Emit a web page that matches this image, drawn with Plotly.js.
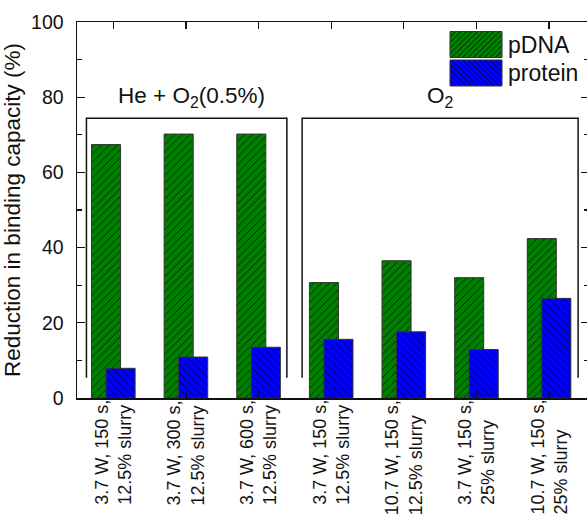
<!DOCTYPE html>
<html>
<head>
<meta charset="utf-8">
<script src="https://cdn.plot.ly/plotly-3.0.1.min.js"></script>
<style>
html,body{margin:0;padding:0;overflow:hidden;background:#fff;}
#chart{width:590px;height:517px;}
</style>
</head>
<body>
<div id="chart"></div>
<script>
// ---- data ----
const conditions = [
  "3.7 W, 150 s,<br>12.5% slurry",
  "3.7 W, 300 s,<br>12.5% slurry",
  "3.7 W, 600 s,<br>12.5% slurry",
  "3.7 W, 150 s,<br>12.5% slurry",
  "10.7 W, 150 s,<br>12.5% slurry",
  "3.7 W, 150 s,<br>25% slurry",
  "10.7 W, 150 s,<br>25% slurry"
];
const pDNA    = [67.4, 70.2, 70.2, 30.7, 36.5, 32.0, 42.4];
const protein = [7.9, 10.9, 13.5, 15.6, 17.6, 12.9, 26.5];
const seriesNames = ["pDNA", "protein"];
const groupNames = ["He + O<sub>2</sub>(0.5%)", "O<sub>2</sub>"];

// ---- styles ----
const FONT = "Arial, 'Liberation Sans', sans-serif";
const GREEN = "#008000", BLUE = "#0000ff", INK = "#111111";
const idx = conditions.map((_, i) => i);

const traces = [
  {
    type: "bar", name: seriesNames[0], x: idx, y: pDNA,
    width: 0.4, offset: -0.3,
    marker: {
      color: GREEN, line: {color: "#333", width: 1},
      pattern: {shape: "/", fgcolor: "#000", bgcolor: GREEN, size: 5.5, solidity: 0.12, fillmode: "replace"}
    },
    showlegend: false, hoverinfo: "skip"
  },
  {
    type: "bar", name: seriesNames[1], x: idx, y: protein,
    width: 0.4, offset: -0.1,
    marker: {
      color: BLUE, line: {color: "#333", width: 1},
      pattern: {shape: "\\", fgcolor: "#000", bgcolor: BLUE, size: 5.5, solidity: 0.12, fillmode: "replace"}
    },
    showlegend: false, hoverinfo: "skip"
  }
];

// pixel helpers for the plot box (left 77, right 589, top 22, bottom 398)
const PL = 77, PR = 589, PT = 22, PB = 398;
const px2paperX = p => (p - PL) / (PR - PL);
const px2paperY = p => (PB - p) / (PB - PT);

// group brackets (open at bottom)
function bracket(x0, x1, yTop, yBot) {
  return {type: "path", xref: "x", yref: "y",
    path: `M${x0},${yBot} L${x0},${yTop} L${x1},${yTop} L${x1},${yBot}`,
    line: {color: INK, width: 1.5}};
}
const shapes = [
  bracket(-0.37, 2.39, 74.4, 5.4),
  bracket(2.6, 6.4, 74.4, 5.4)
];

// custom legend swatches (hatched boxes)
function hatchPath(x0, y0, x1, y1, step, dir) {
  const segs = [];
  const h = y1 - y0, w = x1 - x0;
  for (let c = -h; c < w + h; c += step) {
    let pts = [];
    for (let t = 0; t <= h; t += 0.5) {
      const x = x0 + c + t;
      const y = dir === 1 ? y1 - t : y0 + t;
      if (x >= x0 && x <= x1) pts.push([x, y]);
    }
    if (pts.length > 1) {
      const a = pts[0], b = pts[pts.length - 1];
      segs.push(`M${px2paperX(a[0])},${px2paperY(a[1])} L${px2paperX(b[0])},${px2paperY(b[1])}`);
    }
  }
  return segs.join(" ");
}
const legendBoxes = [
  {x0: 450, x1: 502, y0: 31.5, y1: 57.5, color: GREEN, dir: 1},
  {x0: 450, x1: 502, y0: 60, y1: 86, color: BLUE, dir: -1}
];
legendBoxes.forEach(b => {
  shapes.push({type: "rect", xref: "paper", yref: "paper",
    x0: px2paperX(b.x0), x1: px2paperX(b.x1), y0: px2paperY(b.y1), y1: px2paperY(b.y0),
    fillcolor: b.color, line: {width: 0}});
  shapes.push({type: "path", xref: "paper", yref: "paper",
    path: hatchPath(b.x0, b.y0, b.x1, b.y1, 5.5, b.dir), line: {color: "#000", width: 0.7}});
  shapes.push({type: "rect", xref: "paper", yref: "paper",
    x0: px2paperX(b.x0), x1: px2paperX(b.x1), y0: px2paperY(b.y1), y1: px2paperY(b.y0),
    line: {color: "#333", width: 1}});
});

const annotations = [];
// category labels (rotated, left-aligned lines)
conditions.forEach((c, i) => {
  annotations.push({
    x: i, y: 0, xref: "x", yref: "paper",
    text: c, textangle: -90, align: "left",
    xanchor: "center", yanchor: "top", yshift: -1,
    showarrow: false, borderpad: 0,
    font: {family: FONT, size: 18, color: INK}
  });
});
// group labels
annotations.push({x: 1.08, y: 80, xref: "x", yref: "y", text: groupNames[0], showarrow: false,
  font: {family: FONT, size: 22.5, color: INK}, xanchor: "center", yanchor: "middle"});
annotations.push({x: 4.5, y: 80, xref: "x", yref: "y", text: groupNames[1], showarrow: false,
  font: {family: FONT, size: 22.5, color: INK}, xanchor: "center", yanchor: "middle"});
// legend labels
seriesNames.forEach((n, k) => {
  const b = legendBoxes[k];
  annotations.push({x: px2paperX(506), y: px2paperY((b.y0 + b.y1) / 2), xref: "paper", yref: "paper",
    text: n, showarrow: false, xanchor: "left", yanchor: "middle",
    font: {family: FONT, size: 23, color: INK}});
});

const layout = {
  width: 590, height: 517,
  margin: {l: 77, r: 1, t: 22, b: 119},
  paper_bgcolor: "#fff", plot_bgcolor: "#fff",
  barmode: "overlay",
  showlegend: false,
  font: {family: FONT, color: INK},
  xaxis: {
    range: [-0.5, 6.55], tickvals: idx, showticklabels: false,
    ticks: "inside", ticklen: 7, tickwidth: 1.3, tickcolor: INK,
    showline: true, linecolor: INK, linewidth: 1.5, mirror: "allticks",
    showgrid: false, zeroline: false, fixedrange: true
  },
  yaxis: {
    range: [0, 100], tickvals: [0, 20, 40, 60, 80, 100],
    ticks: "inside", ticklen: 8, tickwidth: 1.3, tickcolor: INK,
    minor: {tickvals: [10, 30, 50, 70, 90], ticks: "inside", ticklen: 5, tickwidth: 1.3, tickcolor: INK, showgrid: false},
    showline: true, linecolor: INK, linewidth: 1.5, mirror: "allticks",
    showgrid: false, zeroline: false, fixedrange: true,
    tickfont: {family: FONT, size: 19.5, color: INK},
    ticklabelstandoff: 8,
    title: {text: "Reduction in binding capacity (%)", font: {family: FONT, size: 22.5, color: INK}, standoff: 12}
  },
  shapes: shapes,
  annotations: annotations
};

Plotly.newPlot("chart", traces, layout, {displayModeBar: false, staticPlot: true});
</script>
</body>
</html>
